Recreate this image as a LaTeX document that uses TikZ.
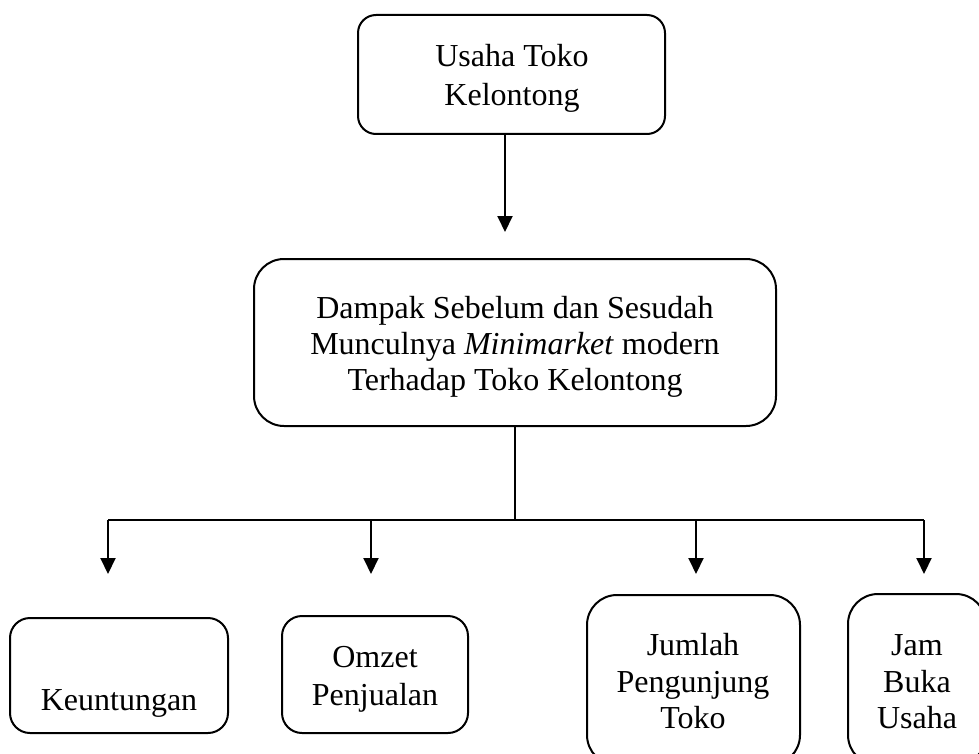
\documentclass[tikz,border=0pt]{standalone}
\usepackage{fontspec}
\setmainfont{Liberation Serif}
\usetikzlibrary{arrows.meta}
\begin{document}
\begin{tikzpicture}[x=1pt,y=-1pt,
  box/.style={draw,line width=2pt,inner sep=0pt},
  lbl/.style={anchor=base,inner sep=0pt,font=\fontsize{32}{37}\selectfont},
  arr/.style={line width=2pt,-{Triangle[length=16pt,width=15pt]}},
  thinline/.style={line width=1.3pt}]
\clip (0,0) rectangle (979,754);
\fill[white] (0,0) rectangle (979,754);
% boxes
\node[box, rounded corners=18pt, minimum width=307pt, minimum height=119pt] (top) at (511.5,74.5) {};
\node[box, rounded corners=30pt, minimum width=522pt, minimum height=167pt] (mid) at (515,342.5) {};
\node[box, rounded corners=20pt, minimum width=218pt, minimum height=115pt] (keu) at (119,675.5) {};
\node[box, rounded corners=20pt, minimum width=186pt, minimum height=117pt] (omz) at (375,674.5) {};
\node[box, rounded corners=30pt, minimum width=213pt, minimum height=170pt] (jum) at (693.5,680) {};
\node[box, rounded corners=30pt, minimum width=138pt, minimum height=171pt] (jam) at (917,679.5) {};
% texts
\node[lbl] at (512,67) {Usaha Toko};
\node[lbl] at (512,106) {Kelontong};
\node[lbl] at (515,318) {Dampak Sebelum dan Sesudah};
\node[lbl] at (515,354) {Munculnya \textit{Minimarket} modern};
\node[lbl] at (515,390) {Terhadap Toko Kelontong};
\node[lbl] at (119,710) {Keuntungan};
\node[lbl] at (375,667) {Omzet};
\node[lbl] at (375,705) {Penjualan};
\node[lbl] at (693,655) {Jumlah};
\node[lbl] at (693,692) {Pengunjung};
\node[lbl] at (693,728) {Toko};
\node[lbl] at (917,655) {Jam};
\node[lbl] at (917,692) {Buka};
\node[lbl] at (917,728) {Usaha};
% connectors
\coordinate (t0) at (505,232);
\draw[arr] (top.south -| t0) -- (t0);
\coordinate (j) at (515,520);
\draw[thinline] (mid.south -| j) -- (j);
\coordinate (h1) at (108,520);
\coordinate (h2) at (371,520);
\coordinate (h3) at (696,520);
\coordinate (h4) at (924,520);
\draw[thinline] (h1) -- (h4);
\coordinate (a1) at (108,574);
\coordinate (a2) at (371,574);
\coordinate (a3) at (696,574);
\coordinate (a4) at (924,574);
\draw[arr] (h1) -- (a1);
\draw[arr] (h2) -- (a2);
\draw[arr] (h3) -- (a3);
\draw[arr] (h4) -- (a4);
\end{tikzpicture}
\end{document}
